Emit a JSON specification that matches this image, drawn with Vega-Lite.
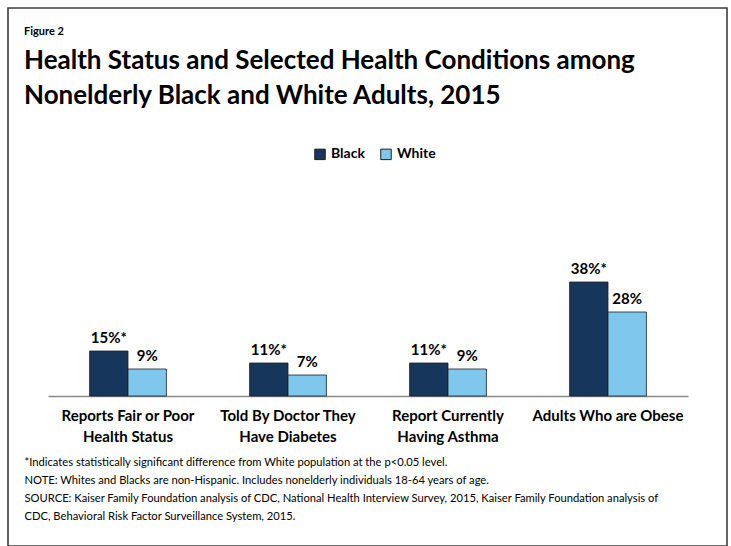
{
  "$schema": "https://vega.github.io/schema/vega-lite/v6.json",
  "width": 719,
  "height": 538,
  "autosize": {"type": "none"},
  "padding": {"left": 8, "top": 8, "right": 4, "bottom": 0},
  "background": "white",
  "config": {
    "font": "Lato",
    "view": {"stroke": "#3d3d3d", "strokeWidth": 1.6}
  },
  "title": {
    "text": "Figure 2",
    "subtitle": ["Health Status and Selected Health Conditions among", "Nonelderly Black and White Adults, 2015"],
    "anchor": "start",
    "frame": "group",
    "orient": "top",
    "offset": -101,
    "dx": 16,
    "fontSize": 11,
    "fontWeight": "bold",
    "color": "#000000",
    "subtitleFont": "Lato",
    "subtitleFontSize": 26,
    "subtitleFontWeight": "bold",
    "subtitleColor": "#000000",
    "subtitleLineHeight": 35,
    "subtitlePadding": 11
  },
  "data": {
    "values": [
      {"condition": "Reports Fair or Poor|Health Status", "race": "Black", "value": 15, "label": "15%*"},
      {"condition": "Reports Fair or Poor|Health Status", "race": "White", "value": 9, "label": "9%"},
      {"condition": "Told By Doctor They|Have Diabetes", "race": "Black", "value": 11, "label": "11%*"},
      {"condition": "Told By Doctor They|Have Diabetes", "race": "White", "value": 7, "label": "7%"},
      {"condition": "Report Currently|Having Asthma", "race": "Black", "value": 11, "label": "11%*"},
      {"condition": "Report Currently|Having Asthma", "race": "White", "value": 9, "label": "9%"},
      {"condition": "Adults Who are Obese", "race": "Black", "value": 38, "label": "38%*"},
      {"condition": "Adults Who are Obese", "race": "White", "value": 28, "label": "28%"}
    ]
  },
  "encoding": {
    "x": {
      "field": "condition",
      "type": "nominal",
      "sort": ["Reports Fair or Poor|Health Status", "Told By Doctor They|Have Diabetes", "Report Currently|Having Asthma", "Adults Who are Obese"],
      "scale": {"range": [40, 680], "paddingInner": 0.52, "paddingOuter": 0.26},
      "axis": {
        "orient": "bottom",
        "offset": -150,
        "title": [
          "*Indicates statistically significant difference from White population at the p<0.05 level.",
          "NOTE: Whites and Blacks are non-Hispanic. Includes nonelderly individuals 18-64 years of age.",
          "SOURCE: Kaiser Family Foundation analysis of CDC, National Health Interview Survey, 2015, Kaiser Family Foundation analysis of",
          "CDC, Behavioral Risk Factor Surveillance System, 2015."
        ],
        "titleAnchor": "start",
        "titleAlign": "left",
        "titleX": 16,
        "titleY": 60,
        "titleBaseline": "top",
        "titleFont": "Lato",
        "titleFontSize": 11.2,
        "titleFontWeight": "normal",
        "titleColor": "#000000",
        "titleLineHeight": 18,
        "labelExpr": "split(datum.label, '|')",
        "labelAngle": 0,
        "labelFontSize": 15,
        "labelFontWeight": "bold",
        "labelColor": "#000000",
        "labelLineHeight": 21,
        "labelPadding": 12,
        "ticks": false,
        "domainColor": "#8a8a8a",
        "domainWidth": 1.5
      }
    },
    "xOffset": {"field": "race", "type": "nominal", "sort": ["Black", "White"]},
    "y": {
      "field": "value",
      "type": "quantitative",
      "scale": {"domain": [0, 40], "range": [388, 268]},
      "axis": null
    }
  },
  "layer": [
    {
      "mark": {"type": "bar", "stroke": "#1f1f1f", "strokeWidth": 0.8},
      "encoding": {
        "color": {
          "field": "race",
          "type": "nominal",
          "scale": {"domain": ["Black", "White"], "range": ["#16365c", "#7fc7ed"]},
          "legend": {
            "orient": "none",
            "legendX": 305,
            "legendY": 139,
            "direction": "horizontal",
            "title": null,
            "symbolType": "square",
            "symbolSize": 110,
            "symbolStrokeColor": "#1f1f1f",
            "symbolStrokeWidth": 1,
            "labelFontSize": 14,
            "labelFontWeight": "bold",
            "labelColor": "#000000",
            "labelOffset": 4,
            "columnPadding": 13
          }
        }
      }
    },
    {
      "mark": {"type": "text", "dy": -5, "baseline": "bottom", "fontSize": 15, "fontWeight": "bold", "color": "#000000"},
      "encoding": {"text": {"field": "label", "type": "nominal"}}
    }
  ]
}
